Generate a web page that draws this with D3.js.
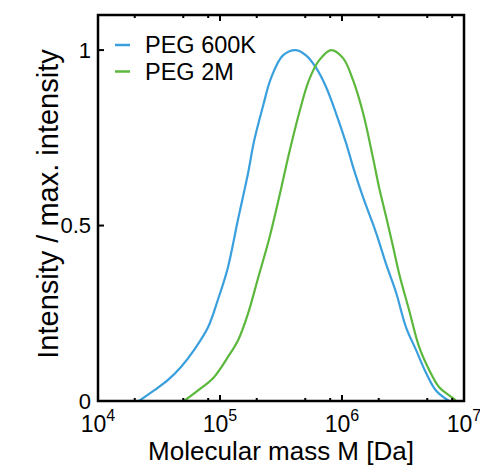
<!DOCTYPE html>
<html>
<head>
<meta charset="utf-8">
<script src="https://cdn.jsdelivr.net/npm/d3@7"></script>
<style>
    body { margin: 0; background: #fff; }
    svg { display: block; font-family: "Liberation Sans", Arial, sans-serif; }
</style>
</head>
<body>
<svg id="chart" width="480" height="465"></svg>
<script>
// Series: molecular mass (Da) and normalised intensity
const seriesNames = ['PEG 600K', 'PEG 2M'];
const seriesColors = ['#3a9fdd', '#5cb83c'];

const peg600kMass = [2.17e4, 2.88e4, 3.75e4, 4.79e4, 6.12e4, 7.98e4, 9.64e4, 1.16e5, 1.41e5, 1.70e5,
    1.90e5, 2.25e5, 2.62e5, 3.28e5, 4.20e5, 5.07e5, 6.12e5, 7.40e5, 8.93e5, 1.08e6,
    1.25e6, 1.49e6, 1.90e6, 2.30e6, 2.77e6, 3.35e6, 4.05e6, 4.89e6, 5.89e6, 7.53e6];
const peg600kIntensity = [0, 0.03, 0.06, 0.097, 0.145, 0.21, 0.29, 0.38, 0.52, 0.65,
    0.74, 0.84, 0.92, 0.985, 1.0, 0.985, 0.95, 0.895, 0.82, 0.735,
    0.66, 0.58, 0.48, 0.39, 0.31, 0.21, 0.145, 0.08, 0.03, 0];

const peg2mMass = [5.07e4, 6.61e4, 8.93e4, 1.16e5, 1.41e5, 1.70e5, 2.05e5, 2.52e5, 3.05e5, 3.68e5,
    4.45e5, 5.37e5, 6.47e5, 8.13e5, 1.02e6, 1.23e6, 1.49e6, 1.79e6, 2.01e6, 2.30e6,
    2.62e6, 2.93e6, 3.54e6, 4.28e6, 5.16e6, 6.24e6, 8.13e6, 8.59e6];
const peg2mIntensity = [0, 0.03, 0.068, 0.125, 0.174, 0.25, 0.35, 0.46, 0.58, 0.705,
    0.82, 0.915, 0.97, 1.0, 0.977, 0.915, 0.82, 0.695, 0.61, 0.525,
    0.44, 0.365, 0.26, 0.155, 0.09, 0.04, 0.008, 0];

const xMajorTicks = [1e4, 1e5, 1e6, 1e7];
const xExponents = ['4', '5', '6', '7'];
const xMinorTicks = [2e4, 5e4, 8e4, 2e5, 5e5, 8e5, 2e6, 5e6, 8e6];
const yTicks = [0, 0.5, 1];
const yTickLabels = ['0', '0.5', '1'];

const margin = {top: 15, right: 16, bottom: 64, left: 98};
const svg = d3.select('#chart');
const W = +svg.attr('width'), H = +svg.attr('height');
const width = W - margin.left - margin.right;
const height = H - margin.top - margin.bottom;

const x = d3.scaleLog().domain([1e4, 1e7]).range([0, width]);
const y = d3.scaleLinear().domain([0, 1.1]).range([height, 0]);

const g = svg.append('g').attr('transform', `translate(${margin.left},${margin.top})`);

// curves
const series = [
    peg600kMass.map((m, i) => ({m, v: peg600kIntensity[i]})),
    peg2mMass.map((m, i) => ({m, v: peg2mIntensity[i]}))
];
const line = d3.line().x(d => x(d.m)).y(d => y(d.v)).curve(d3.curveCatmullRom.alpha(0.5));

series.forEach((data, i) => {
    g.append('path')
        .datum(data)
        .attr('d', line)
        .attr('fill', 'none')
        .attr('stroke', seriesColors[i])
        .attr('stroke-width', 2.2)
        .attr('stroke-linejoin', 'round');
});

// frame
g.append('rect')
    .attr('width', width).attr('height', height)
    .attr('fill', 'none').attr('stroke', '#000').attr('stroke-width', 2.5);

// x ticks, bottom and top, pointing inward
[[height, -1], [0, 1]].forEach(([y0, dir]) => {
    g.selectAll(null).data(xMajorTicks.slice(1, -1)).enter().append('line')
        .attr('x1', d => x(d)).attr('x2', d => x(d))
        .attr('y1', y0).attr('y2', y0 + dir * 6)
        .attr('stroke', '#000').attr('stroke-width', 2);
    g.selectAll(null).data(xMinorTicks).enter().append('line')
        .attr('x1', d => x(d)).attr('x2', d => x(d))
        .attr('y1', y0).attr('y2', y0 + dir * 3)
        .attr('stroke', '#000').attr('stroke-width', 2);
});

// y ticks on the left
g.selectAll(null).data(yTicks.slice(1)).enter().append('line')
    .attr('x1', 0).attr('x2', 6)
    .attr('y1', d => y(d)).attr('y2', d => y(d))
    .attr('stroke', '#000').attr('stroke-width', 2);

g.selectAll(null).data(yTicks).enter().append('text')
    .attr('x', -7).attr('y', d => y(d))
    .attr('dy', '0.35em')
    .attr('text-anchor', 'end')
    .style('font-size', '22px')
    .text((d, i) => yTickLabels[i]);

// x tick labels with superscript exponent
xMajorTicks.forEach((t, i) => {
    const lab = g.append('text')
        .attr('x', x(t)).attr('y', height + 31)
        .attr('text-anchor', 'middle')
        .style('font-size', '23px');
    lab.append('tspan').text('10');
    lab.append('tspan').attr('dy', -11).style('font-size', '16px').text(xExponents[i]);
});

// axis titles
g.append('text')
    .attr('x', width / 2).attr('y', height + 59)
    .attr('text-anchor', 'middle')
    .style('font-size', '26px')
    .text('Molecular mass M [Da]');

g.append('text')
    .attr('transform', `translate(${-40},${height / 2 - 4}) rotate(-90)`)
    .attr('text-anchor', 'middle')
    .style('font-size', '29px')
    .text('Intensity / max. intensity');

// legend
const legend = g.append('g').attr('transform', 'translate(17, 30)');
seriesNames.forEach((name, i) => {
    const row = legend.append('g').attr('transform', `translate(0, ${i * 26.5})`);
    row.append('line')
        .attr('x1', 0).attr('x2', 15)
        .attr('stroke', seriesColors[i]).attr('stroke-width', 2.5);
    row.append('text')
        .attr('x', 30).attr('y', 0).attr('dy', '0.35em')
        .style('font-size', '23.5px')
        .text(name);
});
</script>
</body>
</html>
